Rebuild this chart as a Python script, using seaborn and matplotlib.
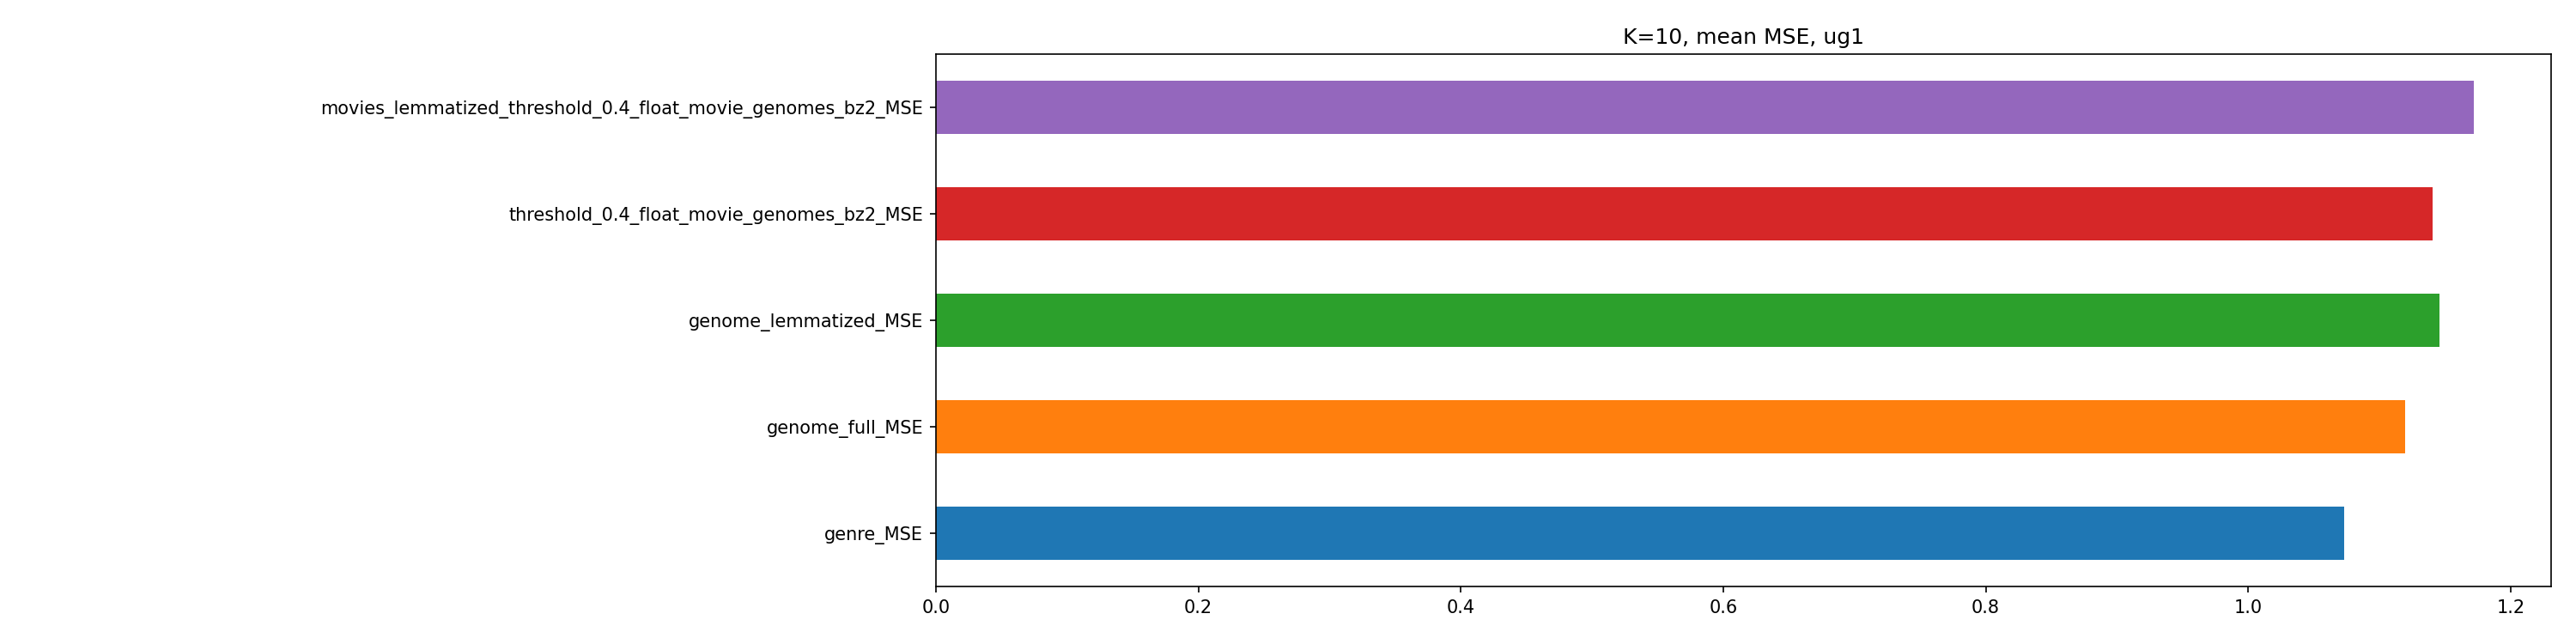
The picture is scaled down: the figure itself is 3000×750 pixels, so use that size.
import matplotlib
matplotlib.use("Agg")
import matplotlib.pyplot as plt
import seaborn as sns
import pandas as pd

categories = [
    "genre_MSE",
    "genome_full_MSE",
    "genome_lemmatized_MSE",
    "threshold_0.4_float_movie_genomes_bz2_MSE",
    "movies_lemmatized_threshold_0.4_float_movie_genomes_bz2_MSE",
]
values = [1.0734, 1.1198, 1.1460, 1.1407, 1.1721]
colors = ["#1f77b4", "#ff7f0e", "#2ca02c", "#d62728", "#9467bd"]

df = pd.DataFrame({"name": categories, "mse": values})
order = categories[::-1]  # top to bottom
palette = dict(zip(categories, colors))

plt.rcParams["font.family"] = ["DejaVu Sans"]
fig, ax = plt.subplots(figsize=(20, 5), dpi=150)
sns.barplot(data=df, x="mse", y="name", hue="name", order=order,
            palette=palette, orient="h", width=0.5, saturation=1,
            legend=False, ax=ax)
ax.set_xlabel("")
ax.set_ylabel("")
ax.set_title("K=10, mean MSE, ug1", fontsize=12)
ax.set_xlim(0, max(values) * 1.05)
ax.set_ylim(4.5, -0.5)
ax.tick_params(labelsize=10)
fig.subplots_adjust(left=0.3633, right=0.9903, top=0.916, bottom=0.0893)
fig.savefig("out.png", dpi=150)
